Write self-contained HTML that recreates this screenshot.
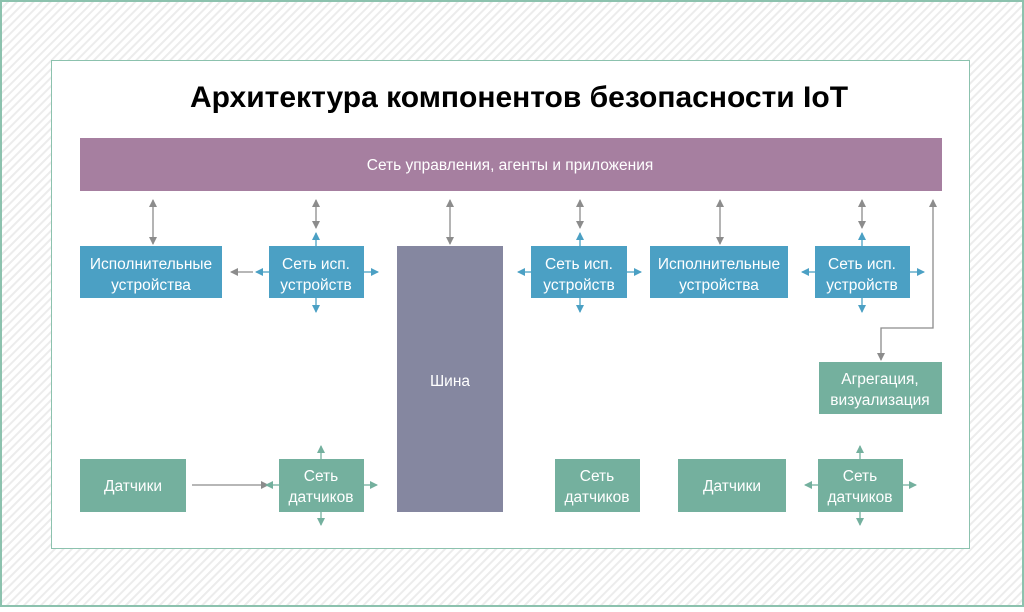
<!DOCTYPE html>
<html><head><meta charset="utf-8"><style>
body{margin:0;width:1024px;height:607px;overflow:hidden;font-family:"Liberation Sans",sans-serif;}
</style></head><body>
<svg width="1024" height="607" xmlns="http://www.w3.org/2000/svg" font-family="Liberation Sans, sans-serif">
<defs>
<pattern id="h" width="6" height="6" patternUnits="userSpaceOnUse" patternTransform="rotate(45)">
<rect width="6" height="6" fill="#fff"/><rect width="2" height="6" fill="#ececec"/></pattern>
<marker id="g" markerWidth="8" markerHeight="8" refX="7" refY="4" orient="auto-start-reverse" markerUnits="userSpaceOnUse"><path d="M0,0 L8,4 L0,8z" fill="#8c8c8c"/></marker>
<marker id="b" markerWidth="8" markerHeight="8" refX="7" refY="4" orient="auto" markerUnits="userSpaceOnUse"><path d="M0,0 L8,4 L0,8z" fill="#4ba0c4"/></marker>
<marker id="t" markerWidth="8" markerHeight="8" refX="7" refY="4" orient="auto" markerUnits="userSpaceOnUse"><path d="M0,0 L8,4 L0,8z" fill="#74b09e"/></marker>
</defs>
<rect width="1024" height="607" fill="url(#h)"/>
<rect x="1" y="1" width="1022" height="605" fill="none" stroke="#8cc2ae" stroke-width="2"/>
<rect x="51.5" y="60.5" width="918" height="488" fill="#fff" stroke="#8cc2ae"/>
<text x="519" y="107" text-anchor="middle" font-size="30" font-weight="bold" fill="#000">Архитектура компонентов безопасности IoT</text>
<rect x="80" y="138" width="862" height="53" fill="#a67fa0"/>
<text x="510" y="170" text-anchor="middle" font-size="15.5" fill="#fff">Сеть управления, агенты и приложения</text>
<rect x="397" y="246" width="106" height="266" fill="#8587a0"/>
<text x="450" y="386" text-anchor="middle" font-size="15.5" fill="#fff">Шина</text>
<g fill="#4ba0c4">
<rect x="80" y="246" width="142" height="52"/><rect x="269" y="246" width="95" height="52"/>
<rect x="531" y="246" width="96" height="52"/><rect x="650" y="246" width="138" height="52"/>
<rect x="815" y="246" width="95" height="52"/></g>
<g fill="#74b09e">
<rect x="819" y="362" width="123" height="52"/>
<rect x="80" y="459" width="106" height="53"/><rect x="279" y="459" width="85" height="53"/>
<rect x="555" y="459" width="85" height="53"/><rect x="678" y="459" width="108" height="53"/>
<rect x="818" y="459" width="85" height="53"/></g>
<g fill="#fff" font-size="15.5" text-anchor="middle">
<text x="151" y="269">Исполнительные</text><text x="151" y="290">устройства</text>
<text x="316" y="269">Сеть исп.</text><text x="316" y="290">устройств</text>
<text x="579" y="269">Сеть исп.</text><text x="579" y="290">устройств</text>
<text x="719" y="269">Исполнительные</text><text x="719" y="290">устройства</text>
<text x="862" y="269">Сеть исп.</text><text x="862" y="290">устройств</text>
<text x="880" y="384">Агрегация,</text><text x="880" y="405">визуализация</text>
<text x="133" y="491">Датчики</text>
<text x="321" y="481">Сеть</text><text x="321" y="502">датчиков</text>
<text x="597" y="481">Сеть</text><text x="597" y="502">датчиков</text>
<text x="732" y="491">Датчики</text>
<text x="860" y="481">Сеть</text><text x="860" y="502">датчиков</text>
</g>
<g stroke="#8c8c8c" stroke-width="1.3" fill="none">
<line x1="153" y1="200" x2="153" y2="244" marker-start="url(#g)" marker-end="url(#g)"/>
<line x1="316" y1="200" x2="316" y2="228" marker-start="url(#g)" marker-end="url(#g)"/>
<line x1="450" y1="200" x2="450" y2="244" marker-start="url(#g)" marker-end="url(#g)"/>
<line x1="580" y1="200" x2="580" y2="228" marker-start="url(#g)" marker-end="url(#g)"/>
<line x1="720" y1="200" x2="720" y2="244" marker-start="url(#g)" marker-end="url(#g)"/>
<line x1="862" y1="200" x2="862" y2="228" marker-start="url(#g)" marker-end="url(#g)"/>
<polyline points="933,200 933,328 881,328 881,360" marker-start="url(#g)" marker-end="url(#g)"/>
<line x1="253" y1="272" x2="231" y2="272" marker-end="url(#g)"/>
<line x1="192" y1="485" x2="268" y2="485" marker-end="url(#g)"/>
</g>
<g stroke="#4ba0c4" stroke-width="1.3">
<line x1="316" y1="246" x2="316" y2="233" marker-end="url(#b)"/>
<line x1="316" y1="298" x2="316" y2="312" marker-end="url(#b)"/>
<line x1="269" y1="272" x2="256" y2="272" marker-end="url(#b)"/>
<line x1="364" y1="272" x2="378" y2="272" marker-end="url(#b)"/>
<line x1="580" y1="246" x2="580" y2="233" marker-end="url(#b)"/>
<line x1="580" y1="298" x2="580" y2="312" marker-end="url(#b)"/>
<line x1="531" y1="272" x2="518" y2="272" marker-end="url(#b)"/>
<line x1="627" y1="272" x2="641" y2="272" marker-end="url(#b)"/>
<line x1="862" y1="246" x2="862" y2="233" marker-end="url(#b)"/>
<line x1="862" y1="298" x2="862" y2="312" marker-end="url(#b)"/>
<line x1="815" y1="272" x2="802" y2="272" marker-end="url(#b)"/>
<line x1="910" y1="272" x2="924" y2="272" marker-end="url(#b)"/>
</g>
<g stroke="#74b09e" stroke-width="1.3">
<line x1="321" y1="459" x2="321" y2="446" marker-end="url(#t)"/>
<line x1="321" y1="512" x2="321" y2="525" marker-end="url(#t)"/>
<line x1="279" y1="485" x2="266" y2="485" marker-end="url(#t)"/>
<line x1="364" y1="485" x2="377" y2="485" marker-end="url(#t)"/>
<line x1="860" y1="459" x2="860" y2="446" marker-end="url(#t)"/>
<line x1="860" y1="512" x2="860" y2="525" marker-end="url(#t)"/>
<line x1="818" y1="485" x2="805" y2="485" marker-end="url(#t)"/>
<line x1="903" y1="485" x2="916" y2="485" marker-end="url(#t)"/>
</g>
</svg>
</body></html>
